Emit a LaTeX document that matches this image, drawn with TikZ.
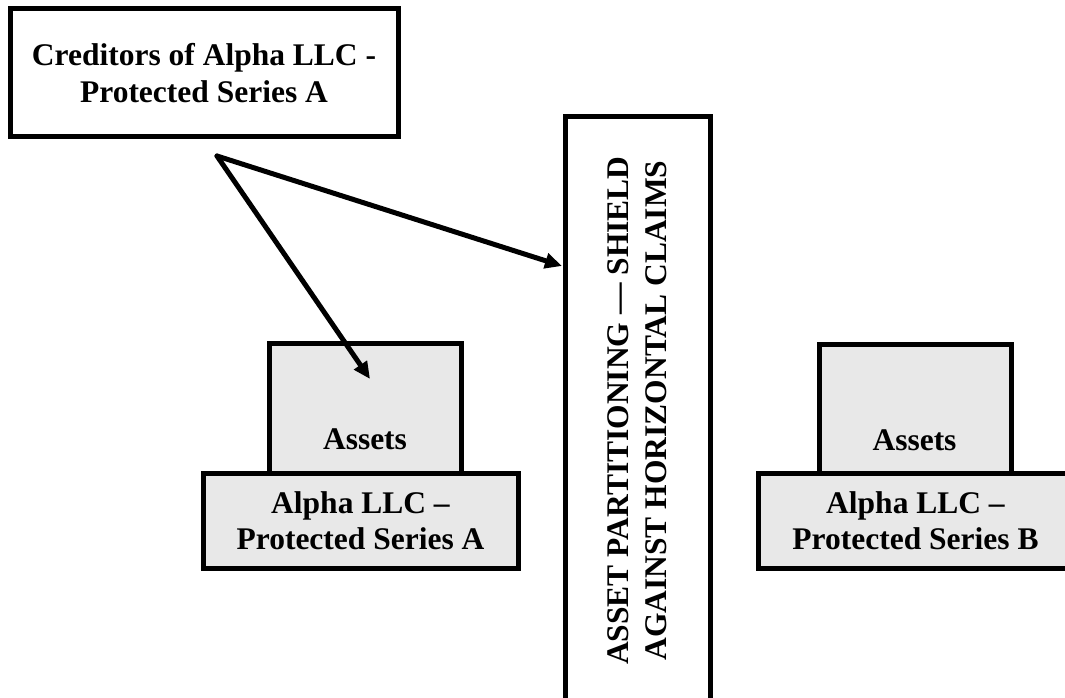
\documentclass[tikz,border=0pt]{standalone}
\usepackage{fontspec}
\setmainfont{Liberation Serif}
\usetikzlibrary{arrows.meta}
\definecolor{boxgray}{RGB}{232,232,232}
\begin{document}
\begin{tikzpicture}[x=1pt,y=-1pt,
  box/.style={draw=black, line width=5pt, inner sep=0pt, outer sep=0pt, align=center,
    font=\fontsize{31.5}{37}\selectfont\bfseries},
  graybox/.style={box, fill=boxgray},
  lbl/.style={inner sep=0pt, font=\fontsize{31.5}{37}\selectfont\bfseries},
  arr/.style={line width=5pt, -{Triangle[length=17pt,width=15pt]}}]
\useasboundingbox (0,0) rectangle (1065,698);
% creditors box
\node[box, fill=white, minimum width=388pt, minimum height=128pt] (cred) at (204,73)
  {Creditors of Alpha LLC -\\Protected Series A};
% shield box
\node[box, fill=white, rotate=90, minimum width=587pt, minimum height=145pt,
  font=\fontsize{31.5}{38}\selectfont\bfseries] (shield) at (637.5,410.5)
  {ASSET PARTITIONING — SHIELD\\AGAINST HORIZONTAL CLAIMS};
% series A
\node[graybox, minimum width=192pt, minimum height=130pt] (assetsA) at (365,408) {};
\node[lbl, anchor=base] (assetsAtext) at (365,449) {Assets};
\node[graybox, minimum width=315pt, minimum height=95pt,
  font=\fontsize{31.5}{36}\selectfont\bfseries] (alphaA) at (360.5,520.5)
  {Alpha LLC –\\Protected Series A};
% series B
\node[graybox, minimum width=192pt, minimum height=129pt] (assetsB) at (915,408.5) {};
\node[lbl, anchor=base] (assetsBtext) at (914.5,450) {Assets};
\node[graybox, minimum width=315pt, minimum height=95pt,
  font=\fontsize{31.5}{36}\selectfont\bfseries] (alphaB) at (915.5,520.5)
  {Alpha LLC –\\Protected Series B};
% arrows
\coordinate (origin) at (217,156);
\coordinate (tipA) at (370,379);
\coordinate (tipS) at (562,266);
\draw[arr, line cap=round] (origin) -- (tipA);
\draw[arr, line cap=round] (origin) -- (tipS);
\end{tikzpicture}
\end{document}
